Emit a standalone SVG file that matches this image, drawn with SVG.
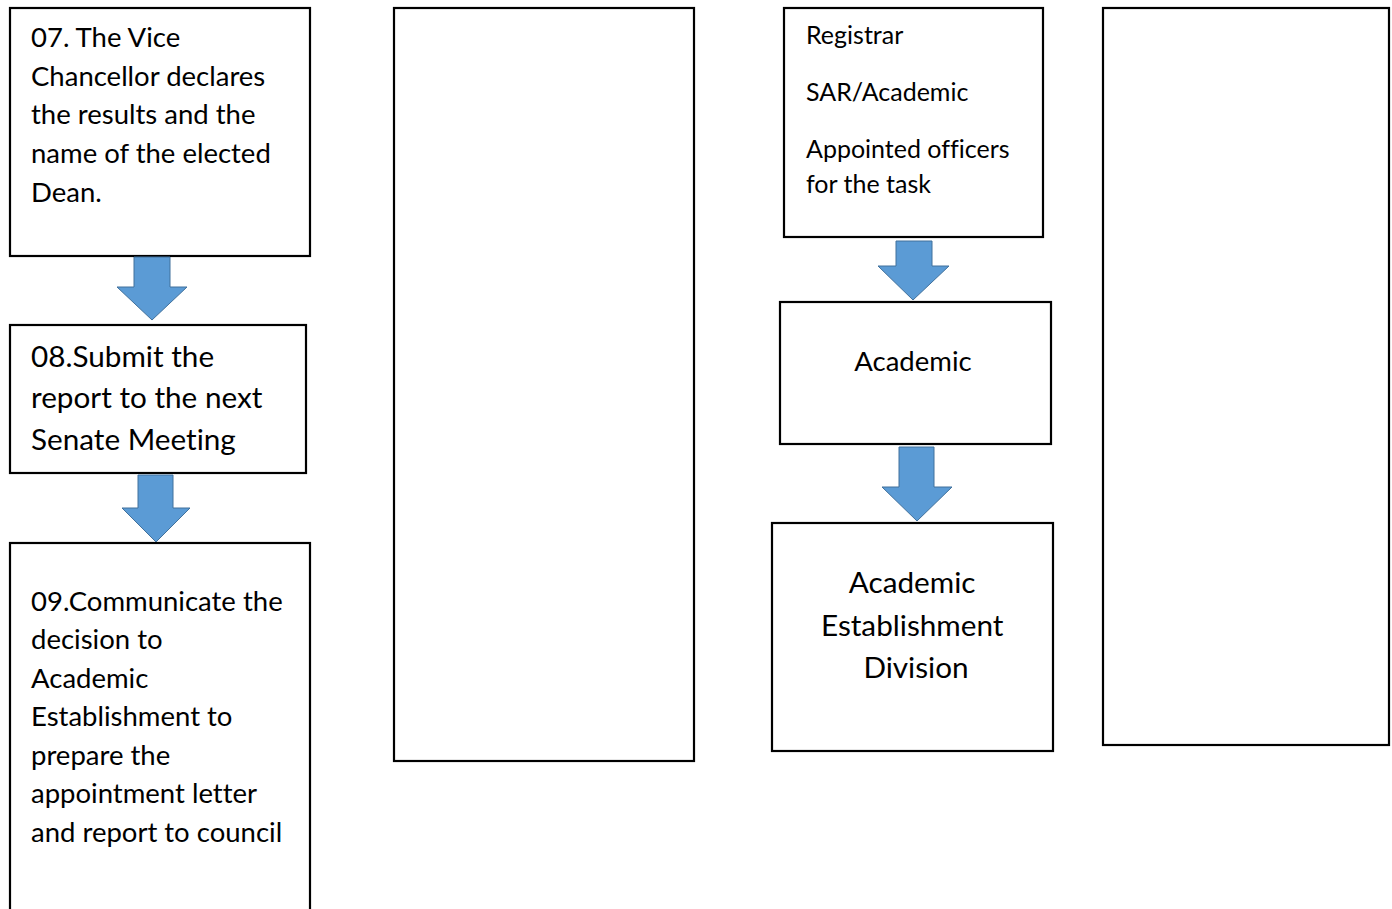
<svg xmlns="http://www.w3.org/2000/svg" width="1392" height="909" viewBox="0 0 1392 909">
  <style>
    .box { fill: #ffffff; stroke: #000000; stroke-width: 2.2; }
    .arrow { fill: #5B9BD5; stroke: #41719C; stroke-width: 1; }
    text { font-family: Lato, "Open Sans", "Liberation Sans", sans-serif; fill: #000000; font-variant-ligatures: none; }
    .body { font-size: 27.5px; }
    .large { font-size: 29.7px; }
    .small { font-size: 25px; }
  </style>
  <rect width="1392" height="909" fill="#ffffff"/>

  <!-- left column: steps 07 to 09 -->
  <g id="step07">
    <rect class="box" x="10" y="8" width="300" height="248"/>
    <text class="body">
      <tspan x="31" y="47">07. The Vice</tspan>
      <tspan x="31" y="86">Chancellor declares</tspan>
      <tspan x="31" y="124">the results and the</tspan>
      <tspan x="31" y="163">name of the elected</tspan>
      <tspan x="31" y="202">Dean.</tspan>
    </text>
  </g>
  <g id="step08">
    <rect class="box" x="10" y="325" width="296" height="148"/>
    <text class="large">
      <tspan x="31" y="367">08.Submit the</tspan>
      <tspan x="31" y="408">report to the next</tspan>
      <tspan x="31" y="450">Senate Meeting</tspan>
    </text>
  </g>
  <g id="step09">
    <rect class="box" x="10" y="543" width="300" height="380"/>
    <text class="body">
      <tspan x="31" y="611">09.Communicate the</tspan>
      <tspan x="31" y="649">decision to</tspan>
      <tspan x="31" y="688">Academic</tspan>
      <tspan x="31" y="726">Establishment to</tspan>
      <tspan x="31" y="765">prepare the</tspan>
      <tspan x="31" y="803">appointment letter</tspan>
      <tspan x="31" y="842">and report to council</tspan>
    </text>
  </g>

  <!-- empty column -->
  <g id="blank-middle">
    <rect class="box" x="394" y="8" width="300" height="753"/>
  </g>

  <!-- responsible parties column -->
  <g id="officers">
    <rect class="box" x="784" y="8" width="259" height="229"/>
    <text class="small">
      <tspan x="806" y="44">Registrar</tspan>
      <tspan x="806" y="101">SAR/Academic</tspan>
      <tspan x="806" y="158">Appointed officers</tspan>
      <tspan x="806" y="193">for the task</tspan>
    </text>
  </g>
  <g id="academic">
    <rect class="box" x="780" y="302" width="271" height="142"/>
    <text class="body" x="913" y="371" text-anchor="middle">Academic</text>
  </g>
  <g id="establishment">
    <rect class="box" x="772" y="523" width="281" height="228"/>
    <text class="large" text-anchor="middle">
      <tspan x="916" y="593">Academic</tspan>
      <tspan x="916" y="636">Establishment</tspan>
      <tspan x="916" y="678">Division</tspan>
    </text>
  </g>

  <!-- empty right column -->
  <g id="blank-right">
    <rect class="box" x="1103" y="8" width="286" height="737"/>
  </g>

  <!-- block arrows -->
  <g id="connectors">
    <path class="arrow" d="M134,257 H170 V287 H187 L152,320 L117,287 H134 Z"/>
    <path class="arrow" d="M138,475 H173 V508 H190 L156,542 L122,508 H138 Z"/>
    <path class="arrow" d="M896,241 H932 V266 H949 L913,300 L878,266 H896 Z"/>
    <path class="arrow" d="M899,447 H934 V487 H952 L917,521 L882,487 H899 Z"/>
  </g>
</svg>
